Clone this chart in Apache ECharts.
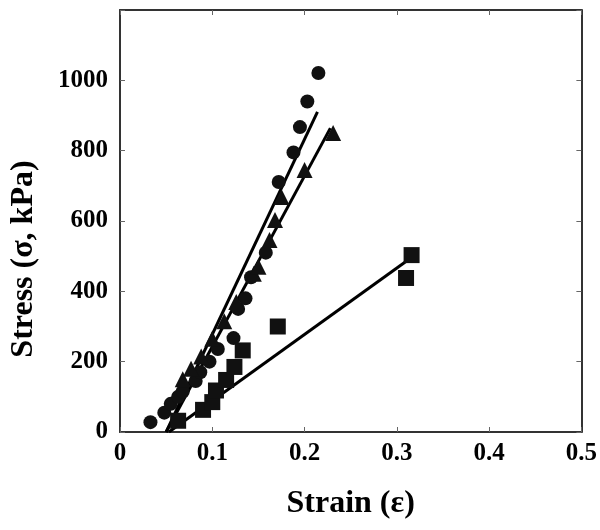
<!DOCTYPE html>
<html>
<head>
<meta charset="UTF-8">
<title>Stress vs Strain</title>
<script type="text/javascript" src="https://cdn.jsdelivr.net/npm/echarts@6/dist/echarts.min.js"></script>
</head>
<body style="margin:0">
<div id="main" style="width:600px;height:530px"></div>

<script type="text/javascript">
	// data: [strain, stress kPa]
	var circles=[[0.033,28],[0.048,55],[0.055,80],[0.063,100],[0.068,115],[0.082,145],[0.087,170],[0.097,200],
	             [0.106,236],[0.123,267],[0.128,350],[0.136,380],[0.142,440],[0.158,510],[0.172,711],
	             [0.188,795],[0.195,867],[0.203,940],[0.215,1021]];
	var triangles=[[0.068,150],[0.077,180],[0.088,215],[0.100,265],[0.113,315],[0.126,370],[0.145,450],
	               [0.150,470],[0.162,546],[0.168,603],[0.175,668],[0.200,745],[0.231,850]];
	var squares=[[0.063,32],[0.090,63],[0.100,85],[0.104,118],[0.115,148],[0.124,185],[0.133,232],
	             [0.171,300],[0.310,438],[0.316,503]];
	// fitted lines
	var fitCircles=[[0.050,0],[0.214,910]];
	var fitTriangles=[[0.050,0],[0.228,864]];
	var fitSquares=[[0.053,0],[0.311,487]];

	var font='Liberation Serif';
	var lbl={color:'#000',fontFamily:font,fontWeight:'bold',fontSize:25};
	var nameStyle={color:'#000',fontFamily:font,fontWeight:'bold',fontSize:32};
	var line={show:true,onZero:false,lineStyle:{color:'#333',width:2}};
	var tick={show:true,inside:true,length:5,lineStyle:{color:'#666',width:1}};

	var mychart=echarts.init(document.getElementById("main"));
	var option={
		animation:false,
		grid:{left:118,right:13,top:10,bottom:98},
		xAxis:[{
			type:'value',min:0,max:0.5,interval:0.1,
			name:'Strain (ε)',nameLocation:'middle',nameGap:56,nameTextStyle:nameStyle,
			axisLine:line,axisTick:tick,splitLine:{show:false},
			axisLabel:Object.assign({margin:9},lbl)
		},{
			type:'value',position:'top',min:0,max:0.5,interval:0.1,
			axisLine:line,axisTick:tick,axisLabel:{show:false},splitLine:{show:false}
		}],
		yAxis:[{
			type:'value',min:0,max:1200,interval:200,
			name:'Stress (σ, kPa)',nameLocation:'middle',nameGap:80,
			nameTextStyle:Object.assign({padding:[0,76,0,0]},nameStyle),
			axisLine:line,axisTick:tick,splitLine:{show:false},
			axisLabel:Object.assign({margin:12,formatter:function(v){return v==1200?'':v;}},lbl)
		},{
			type:'value',position:'right',min:0,max:1200,interval:200,
			axisLine:line,axisTick:tick,axisLabel:{show:false},splitLine:{show:false}
		}],
		series:[
			{type:'line',data:fitCircles,symbol:'none',lineStyle:{color:'#000',width:3},z:1},
			{type:'line',data:fitTriangles,symbol:'none',lineStyle:{color:'#000',width:3},z:1},
			{type:'line',data:fitSquares,symbol:'none',lineStyle:{color:'#000',width:3},z:1},
			{type:'scatter',data:circles,symbol:'circle',symbolSize:14,itemStyle:{color:'#111',opacity:1},z:2},
			{type:'scatter',data:triangles,symbol:'triangle',symbolSize:16,itemStyle:{color:'#111',opacity:1},z:2},
			{type:'scatter',data:squares,symbol:'rect',symbolSize:16,itemStyle:{color:'#111',opacity:1},z:2}
		]
	};
	mychart.setOption(option);
</script>
</body>
</html>
